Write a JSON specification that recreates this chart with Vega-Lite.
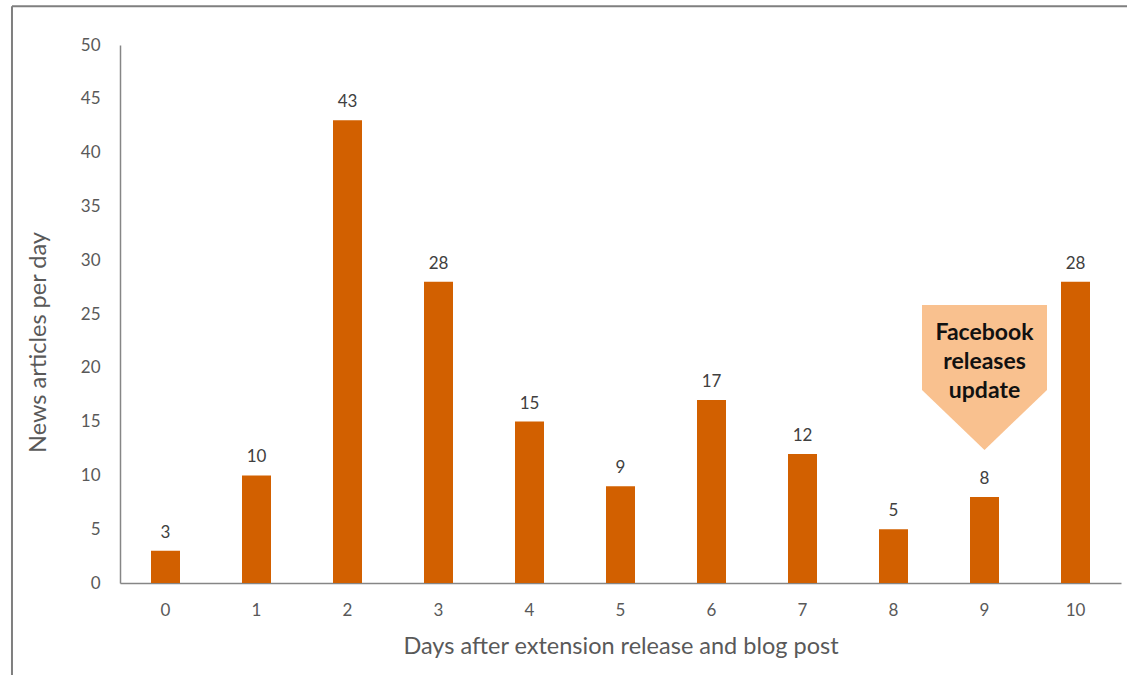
{
  "$schema": "https://vega.github.io/schema/vega-lite/v6.json",
  "autosize": "none",
  "width": 1001,
  "height": 538,
  "padding": {"left": 120, "top": 45, "right": 6, "bottom": 92},
  "background": "white",
  "config": {
    "view": {"stroke": null},
    "font": "Lato",
    "axis": {"grid": false, "ticks": false, "domainColor": "#868686", "domainWidth": 1.5, "labelColor": "#595959", "titleColor": "#595959", "labelFontSize": 17, "titleFontSize": 23.5, "titleFontWeight": "normal", "labelFont": "Lato", "titleFont": "Lato"}
  },
  "data": {
    "values": [
      {"day": 0, "articles": 3},
      {"day": 1, "articles": 10},
      {"day": 2, "articles": 43},
      {"day": 3, "articles": 28},
      {"day": 4, "articles": 15},
      {"day": 5, "articles": 9},
      {"day": 6, "articles": 17},
      {"day": 7, "articles": 12},
      {"day": 8, "articles": 5},
      {"day": 9, "articles": 8},
      {"day": 10, "articles": 28}
    ]
  },
  "resolve": {"scale": {"x": "independent"}},
  "layer": [
    {
      "layer": [
        {
          "mark": {"type": "bar", "color": "#D26000", "size": 29},
          "encoding": {
            "x": {"field": "day", "type": "ordinal", "scale": {"paddingInner": 0, "paddingOuter": 0}, "axis": {"labelAngle": 0, "labelPadding": 19, "title": "Days after extension release and blog post", "titlePadding": 16}},
            "y": {"field": "articles", "type": "quantitative", "scale": {"domain": [0, 50]}, "axis": {"values": [0,5,10,15,20,25,30,35,40,45,50], "labelPadding": 20, "title": "News articles per day", "titlePadding": 30, "titleY": 297}}
          }
        },
        {
          "mark": {"type": "text", "fontSize": 17, "color": "#404040", "baseline": "alphabetic", "dy": -13},
          "encoding": {
            "x": {"field": "day", "type": "ordinal"},
            "y": {"field": "articles", "type": "quantitative"},
            "text": {"field": "articles", "type": "quantitative"}
          }
        },
        {
          "data": {"values": [{"day": 9, "note": "Facebook\nreleases\nupdate"}]},
          "mark": {"type": "point", "filled": true, "opacity": 1, "color": "#F9C18F", "strokeWidth": 0, "shape": "M -0.862 -1 L 0.862 -1 L 0.862 0.172 L 0 1 L -0.862 0.172 Z", "size": 21025},
          "encoding": {
            "x": {"field": "day", "type": "ordinal"},
            "y": {"datum": 19.1}
          }
        },
        {
          "data": {"values": [{"day": 9, "note": "Facebook\nreleases\nupdate"}]},
          "mark": {"type": "text", "fontSize": 23, "fontWeight": "bold", "color": "#111111", "lineBreak": "\n", "lineHeight": 29, "baseline": "middle"},
          "encoding": {
            "x": {"field": "day", "type": "ordinal"},
            "y": {"datum": 23.2},
            "text": {"field": "note"}
          }
        }
      ]
    },
    {
      "data": {"values": [{"x1": -1.687, "x2": 13, "y1": 53.6, "y2": 53.6}, {"x1": -1.687, "x2": -1.687, "y1": 53.6, "y2": -12}]},
      "mark": {"type": "rule", "color": "#7F7F7F", "strokeWidth": 2, "clip": false},
      "encoding": {
        "x": {"field": "x1", "type": "quantitative", "scale": {"domain": [-0.5, 10.5], "clamp": false}, "axis": null},
        "x2": {"field": "x2"},
        "y": {"field": "y1", "type": "quantitative"},
        "y2": {"field": "y2"}
      }
    }
  ]
}
